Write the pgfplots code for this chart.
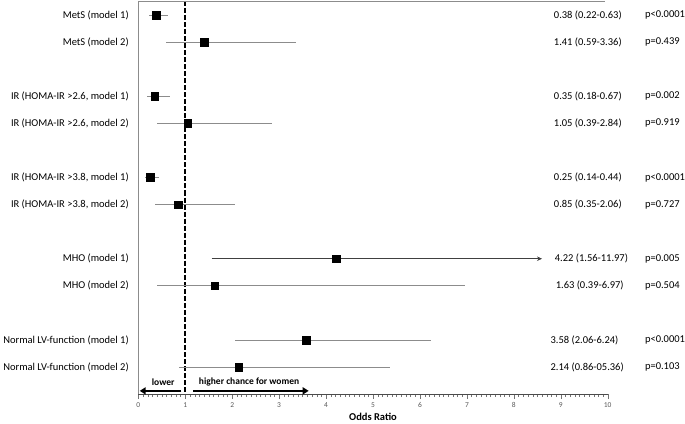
\documentclass[border=0pt]{standalone}
\usepackage{fontspec}
\setmainfont{Carlito}
\usepackage{pgfplots}
\usepackage{pgfplotstable}
\pgfplotsset{compat=1.18}
\usetikzlibrary{arrows.meta}

% row, odds ratio, lower CI, upper CI
\pgfplotstableread{
row or lo hi
0 0.38 0.22 0.63
1 1.41 0.59 3.36
3 0.35 0.18 0.67
4 1.05 0.39 2.84
6 0.25 0.14 0.44
7 0.85 0.35 2.06
10 1.63 0.39 6.97
12 3.58 2.06 6.24
13 2.14 0.86 5.36
}\ortable

\begin{document}
\begin{tikzpicture}
\begin{axis}[
  scale only axis, width=468bp, height=392bp,
  xmin=0, xmax=10, ymin=-0.52, ymax=14,
  y dir=reverse,
  axis x line*=bottom, axis y line*=left,
  x axis line style={black!70, -},
  y axis line style={black!45, -},
  xtick={0,...,10}, minor x tick num=9,
  tick align=outside,
  major tick length=5bp, minor tick length=3bp,
  x tick style={black!55},
  xticklabel style={font=\fontsize{7.5}{9}\selectfont, text=black!65},
  /pgf/number format/assume math mode=true,
  ytick={0,1,3,4,6,7,9,10,12,13},
  yticklabels={MetS (model 1), MetS (model 2),
    {IR (HOMA-IR >2.6, model 1)}, {IR (HOMA-IR >2.6, model 2)},
    {IR (HOMA-IR >3.8, model 1)}, {IR (HOMA-IR >3.8, model 2)},
    MHO (model 1), MHO (model 2),
    Normal LV-function (model 1), Normal LV-function (model 2)},
  y tick style={draw=none},
  yticklabel style={font=\fontsize{10.5}{12}\selectfont, xshift=-1bp},
  xlabel={\textbf{Odds Ratio}},
  xlabel style={font=\fontsize{10.5}{12}\selectfont, yshift=2bp},
  clip=false,
]
% reference line at OR = 1
\addplot[black, line width=1.8bp, dash pattern=on 5bp off 2bp] coordinates {(1,-0.52) (1,14)};

% MHO model 1: CI truncated with arrow
\addplot[black!75, line width=0.7bp, -{Stealth[length=5bp,width=4.5bp]}] coordinates {(1.56,9) (8.6,9)};
\addplot[only marks, mark=square*, mark size=3.8bp, black] coordinates {(4.22,9)};

\addplot[only marks, mark=square*, mark size=3.8bp, black,
  error bars/.cd, x dir=both, x explicit, error mark=none,
  error bar style={black!45, line width=0.7bp}]
  table[x=or, y=row,
    x error minus expr=\thisrow{or}-\thisrow{lo},
    x error plus expr=\thisrow{hi}-\thisrow{or}] {\ortable};

% top frame line
\draw[black!45] (axis cs:0,-0.52) -- (axis cs:9.94,-0.52);

% direction arrows
\draw[line width=2.2bp, -{Triangle[length=6bp,width=7bp]}] (axis cs:0.92,13.88) -- (axis cs:0.03,13.88);
\draw[line width=2.2bp, -{Triangle[length=6bp,width=7bp]}] (axis cs:1.17,13.88) -- (axis cs:3.63,13.88);
\node[font=\bfseries\fontsize{9.5}{11}\selectfont] at (axis cs:0.53,13.55) {lower};
\node[font=\bfseries\fontsize{9.5}{11}\selectfont] at (axis cs:2.36,13.55) {higher chance for women};

% estimates and p values
\begin{scope}[every node/.style={anchor=west, inner sep=0pt, font=\fontsize{10.5}{12}\selectfont}]
\node at (axis cs:8.85,0) {0.38 (0.22-0.63)};
\node at (axis cs:10.79,0) {p<0.0001};
\node at (axis cs:8.85,1) {1.41 (0.59-3.36)};
\node at (axis cs:10.79,1) {p=0.439};
\node at (axis cs:8.85,3) {0.35 (0.18-0.67)};
\node at (axis cs:10.79,3) {p=0.002};
\node at (axis cs:8.85,4) {1.05 (0.39-2.84)};
\node at (axis cs:10.79,4) {p=0.919};
\node at (axis cs:8.85,6) {0.25 (0.14-0.44)};
\node at (axis cs:10.79,6) {p<0.0001};
\node at (axis cs:8.85,7) {0.85 (0.35-2.06)};
\node at (axis cs:10.79,7) {p=0.727};
\node at (axis cs:8.87,9) {4.22 (1.56-11.97)};
\node at (axis cs:10.79,9) {p=0.005};
\node at (axis cs:8.89,10) {1.63 (0.39-6.97)};
\node at (axis cs:10.79,10) {p=0.504};
\node at (axis cs:8.78,12) {3.58 (2.06-6.24)};
\node at (axis cs:10.79,12) {p<0.0001};
\node at (axis cs:8.78,13) {2.14 (0.86-05.36)};
\node at (axis cs:10.79,13) {p=0.103};
\end{scope}
\end{axis}
\end{tikzpicture}
\end{document}
